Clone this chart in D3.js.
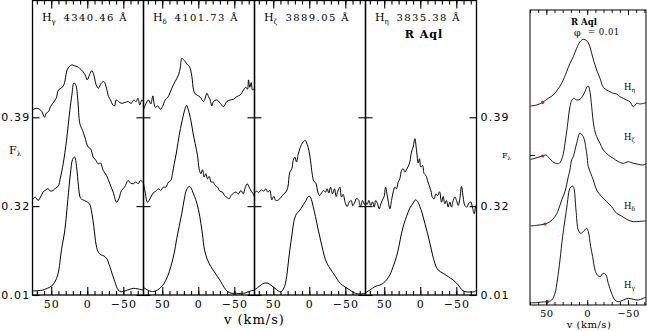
<!DOCTYPE html>
<html>
<head>
<meta charset="utf-8">
<script src="https://cdn.jsdelivr.net/npm/d3@7"></script>
<style>
body { margin: 0; background: #fff; }
svg { display: block; }
text { font-family: "DejaVu Serif", serif; fill: #000; }
.num { font-family: "DejaVu Sans", sans-serif; }
</style>
</head>
<body>
<svg id="chart" width="647" height="331"></svg>
<script>
// line names and rest wavelengths for the four panels
let lineNames = ["γ", "δ", "ζ", "η"];
let lineWaves = ["4340.46", "4101.73", "3889.05", "3835.38"];
// baseline labels of the three stacked rows (bottom to top)
let levelLabels = ["0.01", "0.32", "0.39"];
let levels = [0, 100, 200];
let velTicks = [50, 0, -50];

// spectra: [velocity (km/s), flux above its own baseline]
let hgTop = [[76,8.3],[70.9,10.2],[66.3,9.0],[63.0,6.4],[59.3,0],[57.0,4.5],[53.8,6.4],[51.0,12.0],[47.8,15.8],[43.2,21.4],[39.9,30.8],[36.2,32.7],[32.5,36.5],[30.7,42.1],[27.9,53.4],[24.7,57.1],[21.4,59.0],[17.7,57.9],[14.0,57.1],[10.8,55.3],[6.2,51.5],[2.9,47.7],[0.1,42.1],[-3.1,47.7],[-6.3,52.6],[-9.1,47.7],[-12.3,36.5],[-15.6,32.7],[-19.3,38.3],[-23.0,40.2],[-26.7,32.7],[-29.5,23.3],[-32.2,19.5],[-35.5,13.9],[-37.8,12.8],[-40.1,19.5],[-43.3,17.7],[-47.0,15.8],[-51.7,16.5],[-56.3,17.7],[-60.9,15.8],[-64.6,19.5],[-67.8,17.7],[-70.2,21.4],[-72.9,13.9],[-75.7,19.5],[-78,17.7]];
let hgMid = [[76,7.1],[72.3,10.2],[68.1,6.4],[64.9,10.2],[61.2,15.8],[57.5,18.4],[54.3,19.5],[51.0,16.9],[47.3,17.7],[43.6,20.7],[40.4,22.2],[37.1,32.7],[33.4,47.7],[28.8,74.1],[24.2,107.9],[21.4,124.8],[18.6,138.7],[15.9,136.1],[13.1,119.2],[10.3,92.9],[6.6,85.3],[3.4,77.8],[-1.2,66.5],[-4.5,64.7],[-8.2,55.3],[-11.9,51.5],[-15.1,47.7],[-18.4,48.5],[-22.1,40.2],[-26.7,34.6],[-31.3,25.2],[-35.9,15.8],[-40.6,4.5],[-43.8,8.3],[-47.5,17.7],[-51.7,21.4],[-56.7,28.9],[-60.0,25.9],[-63.7,25.2],[-67.4,27.1],[-70.6,25.2],[-73.9,28.9],[-78,25.9]];
let hgBot = [[76,4.5],[68.6,4.9],[61.7,5.6],[57.0,7.1],[52.4,8.6],[47.8,11.3],[43.6,16.9],[40.4,24.4],[35.8,50.8],[31.1,73.3],[27.0,107.1],[23.3,137.2],[20.5,152.3],[17.7,155.3],[14.9,144.7],[12.2,122.2],[9.4,109.0],[6.2,107.1],[1.5,105.3],[-3.1,102.6],[-6.3,92.1],[-9.1,77.1],[-12.3,56.4],[-15.6,47.7],[-19.3,45.1],[-23.0,44.0],[-26.7,41.4],[-31.3,32.0],[-35.0,22.6],[-38.2,15.0],[-42.9,5.6],[-47.0,3.8],[-51.7,4.5],[-56.3,5.6],[-63.7,7.5],[-70.2,6.8],[-78,5.6]];

let hdTop = [[76,8.3],[72.3,15.8],[69.1,19.5],[65.8,15.0],[63.0,24.1],[59.8,11.3],[56.1,12.8],[52.4,9.0],[49.6,12.0],[45.9,19.5],[42.2,22.6],[36.7,32.7],[32.1,40.2],[27.4,47.7],[25.1,55.3],[22.8,66.5],[20.5,64.7],[18.2,62.8],[14.9,59.0],[12.2,57.1],[8.9,45.9],[6.6,30.8],[4.3,26.3],[2.0,25.2],[-2.6,22.6],[-7.3,17.7],[-9.6,21.4],[-11.9,27.1],[-14.2,23.3],[-16.5,19.5],[-18.8,12.8],[-21.1,17.7],[-25.8,19.5],[-30.4,15.8],[-35.0,12.0],[-39.6,17.7],[-44.3,19.5],[-48.9,20.3],[-53.5,23.3],[-58.1,25.2],[-62.8,30.8],[-66.0,33.8],[-68.3,31.6],[-69.7,42.1],[-71.5,33.8],[-73.4,39.1],[-75.3,30.8],[-78,32.7]];
let hdMid = [[76,25.9],[73.7,15.8],[70.4,4.5],[65.8,10.2],[62.6,14.7],[58.9,16.9],[55.2,19.5],[52.0,17.7],[48.7,21.4],[45.0,21.4],[41.3,27.1],[38.1,28.9],[35.8,36.5],[33.4,47.7],[30.2,60.9],[26.5,79.7],[22.8,94.7],[19.6,106.0],[16.3,113.5],[13.6,107.9],[10.3,96.6],[7.1,81.6],[4.3,70.3],[1.1,57.1],[-1.2,42.1],[-3.6,36.5],[-5.9,41.0],[-8.2,32.7],[-10.5,36.5],[-12.8,30.8],[-15.1,33.5],[-17.9,27.1],[-20.7,27.1],[-23.4,23.3],[-26.7,21.4],[-29.9,16.9],[-33.6,15.8],[-36.4,12.0],[-39.2,10.2],[-42.9,8.3],[-45.6,12.0],[-48.9,14.7],[-52.1,15.8],[-55.8,13.9],[-59.1,17.7],[-62.3,13.9],[-65.1,20.7],[-67.8,25.2],[-70.6,21.4],[-73.4,16.9],[-76.2,13.9],[-78,10.2]];
let hdBot = [[76,8.6],[70.4,5.6],[63.5,3.8],[56.6,5.6],[52.0,8.6],[47.3,13.2],[42.7,20.7],[38.1,32.0],[33.4,47.0],[30.2,62.0],[26.5,77.1],[22.8,92.1],[19.6,107.1],[16.3,118.4],[12.6,122.2],[9.9,120.3],[7.1,114.7],[3.4,107.1],[-0.3,95.9],[-3.6,80.8],[-5.9,67.7],[-8.6,50.8],[-12.8,39.5],[-17.4,32.0],[-22.1,26.3],[-26.7,20.7],[-31.3,15.0],[-35.9,8.6],[-40.6,3.8],[-46.6,1.9],[-53.0,1.9],[-59.5,1.5],[-66.0,2.6],[-72.4,4.5],[-78,5.6]];

let hzMid = [[76,14.7],[73.2,16.9],[70.0,15.4],[66.7,18.4],[63.0,16.9],[60.3,19.5],[57.5,15.8],[54.7,17.7],[52.0,7.1],[49.2,10.9],[46.4,6.4],[42.7,7.1],[39.0,10.2],[35.3,13.9],[32.5,15.8],[29.7,21.4],[27.0,38.3],[24.2,42.1],[22.3,51.5],[20.0,55.3],[17.7,49.6],[15.4,58.3],[13.1,64.7],[10.8,69.5],[8.5,72.2],[5.7,74.1],[2.9,69.5],[0.6,62.8],[-1.7,51.5],[-4.0,36.5],[-6.3,28.2],[-9.1,25.9],[-11.9,15.8],[-14.2,12.0],[-17.0,14.7],[-19.7,17.7],[-22.5,15.8],[-24.8,19.5],[-27.1,14.7],[-29.5,21.4],[-32.2,13.9],[-35.0,19.5],[-37.3,10.9],[-39.6,16.9],[-42.4,21.4],[-44.7,10.2],[-47.0,13.2],[-49.8,4.1],[-52.6,-0.4],[-55.4,4.5],[-58.1,6.4],[-60.4,0.4],[-63.2,4.5],[-65.5,8.6],[-68.3,7.1],[-71.1,-0.4],[-73.9,6.4],[-76.6,1.9],[-78,3.4]];
let hzBot = [[76,5.6],[70.0,9.4],[63.0,13.2],[57.5,13.2],[52.9,10.9],[48.2,7.9],[43.6,4.9],[39.9,3.4],[36.2,6.4],[33.0,13.2],[29.7,32.0],[27.0,50.8],[23.7,69.5],[21.4,82.7],[17.7,91.4],[14.5,94.0],[11.2,97.7],[8.5,101.5],[5.2,105.3],[2.0,110.2],[-0.8,110.9],[-3.1,107.1],[-5.4,99.6],[-8.6,88.3],[-11.9,75.2],[-15.6,62.0],[-19.3,48.9],[-22.5,39.5],[-27.1,32.0],[-31.8,26.3],[-36.4,20.7],[-41.0,15.0],[-45.6,11.3],[-50.3,8.6],[-54.9,6.4],[-59.5,3.8],[-64.1,1.9],[-70.2,1.1],[-78,1.9]];

let heMid = [[76,4.5],[73.7,1.9],[71.4,6.4],[68.6,0.8],[66.3,4.9],[64.0,-1.1],[61.7,6.4],[59.3,2.6],[57.0,-3.0],[54.7,2.6],[52.4,7.1],[50.1,10.9],[48.2,21.4],[46.4,14.7],[44.5,5.6],[42.2,-3.0],[39.9,6.4],[37.6,15.8],[35.3,21.4],[33.0,19.5],[30.7,27.1],[28.4,30.8],[26.0,40.2],[23.7,42.1],[21.4,38.3],[19.1,41.0],[16.8,44.7],[14.5,49.6],[12.2,60.9],[9.9,66.5],[7.5,75.9],[5.2,62.8],[2.9,48.5],[1.1,53.4],[-0.8,44.0],[-3.1,45.9],[-5.4,36.5],[-7.7,34.6],[-10.0,28.9],[-12.3,23.3],[-14.7,17.7],[-17.0,9.4],[-19.3,8.3],[-21.6,13.9],[-23.9,11.7],[-26.7,16.2],[-29.5,4.5],[-31.8,10.9],[-34.1,2.6],[-36.4,6.4],[-38.7,-1.1],[-41.0,4.5],[-43.3,-1.1],[-45.6,6.4],[-48.0,10.2],[-50.3,6.4],[-52.6,0.8],[-54.9,8.3],[-57.2,22.2],[-59.5,10.2],[-61.8,0.8],[-64.6,-1.1],[-67.4,3.4],[-70.2,4.5],[-72.5,-1.9],[-74.8,-8.6],[-76.6,-1.1],[-78,1.9]];
let heBot = [[76,2.6],[70.0,5.6],[63.0,9.4],[56.1,11.3],[51.5,13.2],[46.9,16.9],[42.2,22.6],[37.6,32.0],[33.0,43.2],[29.7,54.5],[26.0,69.5],[22.3,80.8],[19.1,88.3],[14.5,97.7],[9.9,103.4],[6.6,107.1],[3.8,105.3],[0.6,99.6],[-2.6,92.1],[-6.3,80.8],[-10.0,69.5],[-13.3,58.3],[-16.5,47.0],[-20.2,35.7],[-24.8,28.2],[-31.8,24.4],[-38.7,20.7],[-45.6,16.9],[-52.6,11.3],[-57.2,6.4],[-61.8,3.8],[-68.8,3.4],[-75.7,3.8],[-78,5.6]];

// rows per panel, bottom to top (null = no spectrum)
let panelSpectra = [
    [hgBot, hgMid, hgTop],
    [hdBot, hdMid, hdTop],
    [hzBot, hzMid, null],
    [heBot, heMid, null]
];

// inset: single phase, four lines stacked (top to bottom)
let insetNames = ["η", "ζ", "δ", "γ"];
let insetOffsets = [1.98, 1.42, 0.78, 0.03];
let insHe = [[69.2,0.01],[61.8,0.02],[54.5,0.047],[47.6,0.087],[41.5,0.12],[36.6,0.17],[31.2,0.237],[25.1,0.353],[21.1,0.437],[17.0,0.503],[12.9,0.587],[8.8,0.653],[4.8,0.677],[0.6,0.663],[-2.6,0.62],[-5.5,0.537],[-8.3,0.453],[-11.6,0.37],[-15.7,0.287],[-19.7,0.197],[-23.9,0.17],[-27.9,0.153],[-31.9,0.137],[-36.1,0.13],[-40.1,0.103],[-44.2,0.087],[-48.3,0.07],[-52.4,0.053],[-56.4,0.003],[-60.6,0.037],[-64.6,0.03],[-72,0.043]];
let insHz = [[69.2,0.037],[63.9,0.047],[57.8,0.063],[54.5,0.07],[50.4,0.08],[46.4,0.047],[42.3,0.013],[38.2,-0.003],[34.1,-0.003],[30.1,0.063],[27.2,0.197],[24.3,0.363],[21.1,0.563],[18.6,0.63],[16.2,0.647],[12.9,0.63],[8.8,0.637],[4.8,0.68],[2.7,0.713],[0.6,0.757],[-1.4,0.77],[-3.4,0.713],[-5.5,0.563],[-8.3,0.363],[-11.6,0.263],[-15.7,0.197],[-19.7,0.13],[-25.8,0.08],[-31.9,0.047],[-38.1,0.013],[-44.2,-0.003],[-50.3,0.013],[-56.4,-0.003],[-62.5,-0.013],[-68.6,-0.02],[-71.9,-0.01]];
let insHd = [[69.2,0.01],[61.8,0.017],[51.6,0.03],[45.5,0.053],[39.4,0.103],[35.3,0.17],[31.2,0.27],[27.2,0.353],[23.1,0.503],[21.1,0.57],[19.0,0.67],[17.0,0.703],[12.9,0.837],[8.8,0.937],[4.8,0.903],[0.6,0.737],[-1.4,0.603],[-4.3,0.537],[-7.5,0.47],[-11.6,0.37],[-17.7,0.303],[-23.9,0.253],[-30.0,0.203],[-36.1,0.137],[-42.2,0.11],[-48.3,0.077],[-56.4,0.053],[-64.6,0.057],[-71.9,0.06]];
let insHg = [[69.2,-0.007],[61.8,-0.007],[55.7,0],[48.7,0.003],[43.4,0.02],[39.4,0.087],[36.5,0.22],[33.3,0.42],[30.1,0.653],[27.2,0.82],[24.3,0.987],[21.9,1.12],[19.9,1.15],[17.8,1.16],[16.2,1.137],[13.7,0.92],[10.9,0.72],[8.0,0.687],[4.8,0.703],[0.6,0.737],[-1.4,0.703],[-4.3,0.553],[-6.7,0.453],[-9.6,0.32],[-12.4,0.27],[-15.7,0.253],[-19.7,0.287],[-23.0,0.27],[-25.8,0.187],[-29.9,0.087],[-34.0,0.02],[-38.1,0.003],[-44.2,0.02],[-50.3,0.037],[-56.4,0.027],[-62.5,0.02],[-68.6,0.037],[-71.9,0.047]];
let insetSpectra = [insHe, insHz, insHd, insHg];
// red marks on the inset spectra [velocity, flux above baseline]
let insetMarks = [[54.5,0.047],[54.5,0.07],[51.6,0.03],[48.7,0.003]];

let svg = d3.select("#chart");

// ---------- main figure: four panels ----------
let plotTop = 0.5, plotBottom = 295, panelW = 111, firstLeft = 32.5;

let y = d3.scaleLinear().domain([0, 332]).range([plotBottom, 0]);

let minorTicks = d3.range(70, -80, -10);

lineNames.forEach(function (name, i) {
    let left = firstLeft + i * panelW;
    let x = d3.scaleLinear().domain([76, -78]).range([left, left + panelW]);
    let g = svg.append("g");

    g.append("clipPath").attr("id", "clip" + i)
        .append("rect").attr("x", left).attr("y", 0).attr("width", panelW).attr("height", plotBottom);

    let line = d3.line().curve(d3.curveCatmullRom);

    panelSpectra[i].forEach(function (spec, row) {
        if (!spec) return;
        line.x(d => x(d[0])).y(d => y(d[1] + levels[row]));
        g.append("path")
            .datum(spec)
            .attr("clip-path", "url(#clip" + i + ")")
            .attr("d", line)
            .attr("fill", "none")
            .attr("stroke", "#000")
            .attr("stroke-width", 1);
    });

    // minor and major ticks, bottom and top
    let bMinor = g.append("g").attr("transform", "translate(0," + plotBottom + ")")
        .call(d3.axisBottom(x).tickValues(minorTicks).tickSize(-4).tickFormat(""));
    let bMajor = g.append("g").attr("transform", "translate(0," + plotBottom + ")")
        .call(d3.axisBottom(x).tickValues(velTicks).tickSize(-8).tickPadding(5));
    let tMinor = g.append("g").attr("transform", "translate(0," + plotTop + ")")
        .call(d3.axisTop(x).tickValues(minorTicks).tickSize(-4).tickFormat(""));
    let tMajor = g.append("g").attr("transform", "translate(0," + plotTop + ")")
        .call(d3.axisTop(x).tickValues(velTicks).tickSize(-8).tickFormat(""));
    [bMinor, bMajor, tMinor, tMajor].forEach(a => a.select(".domain").remove());
    bMajor.selectAll("text")
        .style("font-family", "DejaVu Serif").style("font-size", "11px").style("letter-spacing", "1px");

    // baseline ticks on both sides of the panel
    let lAx = g.append("g").attr("transform", "translate(" + left + ",0)")
        .call(d3.axisLeft(y).tickValues(levels).tickSize(-7).tickPadding(2)
            .tickFormat((d, k) => i == 0 ? levelLabels[k] : ""));
    let rAx = g.append("g").attr("transform", "translate(" + (left + panelW) + ",0)")
        .call(d3.axisRight(y).tickValues(levels).tickSize(-7).tickPadding(4)
            .tickFormat((d, k) => i == 3 ? levelLabels[k] : ""));
    [lAx, rAx].forEach(function (a) {
        a.select(".domain").remove();
        a.selectAll("text").attr("class", "num")
            .style("font-size", "11px").style("letter-spacing", "1.2px");
    });
    [bMinor, bMajor, tMinor, tMajor, lAx, rAx].forEach(a => a.selectAll("line").attr("stroke-width", 1.1));

    // frame
    g.append("rect").attr("x", left).attr("y", plotTop)
        .attr("width", panelW).attr("height", plotBottom - plotTop)
        .attr("fill", "none").attr("stroke", "#000").attr("stroke-width", 1.3);

    // header: H_x  wavelength
    let h = g.append("text").attr("x", left + 9.5).attr("y", 21)
        .style("font-size", "11px");
    h.append("tspan").text("H");
    h.append("tspan").attr("dy", 3).style("font-size", "7px").text(name);
    g.append("text").attr("x", left + 31).attr("y", 21)
        .style("font-size", "10px").style("letter-spacing", "1.4px")
        .text(lineWaves[i] + " Å");
});

svg.append("text").attr("x", firstLeft + 3.5 * panelW + 3).attr("y", 38)
    .attr("text-anchor", "middle")
    .style("font-size", "11px").style("font-weight", "bold").style("letter-spacing", "1px")
    .text("R Aql");

let fl = svg.append("text").attr("x", 9).attr("y", 154).style("font-size", "11px");
fl.append("tspan").text("F");
fl.append("tspan").attr("dy", 2).style("font-size", "7px").text("λ");

svg.append("text").attr("x", firstLeft + 2 * panelW).attr("y", 324)
    .attr("text-anchor", "middle")
    .style("font-size", "13px").style("letter-spacing", "1px")
    .text("v (km/s)");

// ---------- inset figure ----------
let iLeft = 530, iRight = 646, iTop = 10, iBottom = 305;
let xi = d3.scaleLinear().domain([70, -72]).range([iLeft, iRight]);
let yi = d3.scaleLinear().domain([0, 2.95]).range([iBottom, iTop]);
let gi = svg.append("g");

let lineI = d3.line().curve(d3.curveCatmullRom);
insetSpectra.forEach(function (spec, k) {
    lineI.x(d => xi(d[0])).y(d => yi(d[1] + insetOffsets[k]));
    gi.append("path").datum(spec)
        .attr("d", lineI)
        .attr("fill", "none").attr("stroke", "#000").attr("stroke-width", 0.9);
});

gi.selectAll("circle.mark")
    .data(insetMarks)
    .enter()
    .append("circle")
    .attr("cx", d => xi(d[0]))
    .attr("cy", (d, k) => yi(d[1] + insetOffsets[k]))
    .attr("r", 1.6)
    .attr("fill", "#e8141c");

let iMinor = d3.range(70, -80, -10);
let ibMin = gi.append("g").attr("transform", "translate(0," + iBottom + ")")
    .call(d3.axisBottom(xi).tickValues(iMinor).tickSize(-3).tickFormat(""));
let ibMaj = gi.append("g").attr("transform", "translate(0," + iBottom + ")")
    .call(d3.axisBottom(xi).tickValues(velTicks).tickSize(-5).tickPadding(5));
let itMin = gi.append("g").attr("transform", "translate(0," + iTop + ")")
    .call(d3.axisTop(xi).tickValues(iMinor).tickSize(-3).tickFormat(""));
let itMaj = gi.append("g").attr("transform", "translate(0," + iTop + ")")
    .call(d3.axisTop(xi).tickValues(velTicks).tickSize(-5).tickFormat(""));
let ilAx = gi.append("g").attr("transform", "translate(" + iLeft + ",0)")
    .call(d3.axisLeft(yi).tickValues([1.5]).tickSize(-5).tickFormat(""));
[ibMin, ibMaj, itMin, itMaj, ilAx].forEach(a => { a.select(".domain").remove(); a.selectAll("line").attr("stroke-width", 0.9); });
ibMaj.selectAll("text").style("font-family", "DejaVu Serif").style("font-size", "10px").style("letter-spacing", "0.5px");

gi.append("rect").attr("x", iLeft).attr("y", iTop)
    .attr("width", iRight - iLeft).attr("height", iBottom - iTop)
    .attr("fill", "none").attr("stroke", "#000").attr("stroke-width", 1);

gi.append("text").attr("x", 584).attr("y", 25).attr("text-anchor", "middle")
    .style("font-size", "8.5px").style("font-weight", "bold").text("R Aql");
// phase label: phi plus value (own group, grey-scale text rendering)
gi.append("g").attr("opacity", 0.99)
    .append("text").attr("x", 574).attr("y", 36)
    .attr("fill", "#000").style("fill", "#000")
    .style("font-family", "DejaVu Serif").style("font-size", "9.5px")
    .text("\u03c6");
gi.append("text").attr("x", 588).attr("y", 35)
    .style("font-size", "8.5px").style("letter-spacing", "0.5px").text("= 0.01");

let insetLabelY = [90, 140, 209, 288];
insetNames.forEach(function (name, k) {
    let t = gi.append("text").attr("x", 624).attr("y", insetLabelY[k]).style("font-size", "8.5px");
    t.append("tspan").text("H");
    t.append("tspan").attr("dy", 2).style("font-size", "6px").text(name);
});

let fli = gi.append("text").attr("x", 502).attr("y", 158).style("font-size", "8px");
fli.append("tspan").text("F");
fli.append("tspan").attr("dy", 2).style("font-size", "5.5px").text("λ");

gi.append("text").attr("x", 589).attr("y", 328).attr("text-anchor", "middle")
    .style("font-size", "10px").style("letter-spacing", "0.5px")
    .text("v (km/s)");
</script>
</body>
</html>
